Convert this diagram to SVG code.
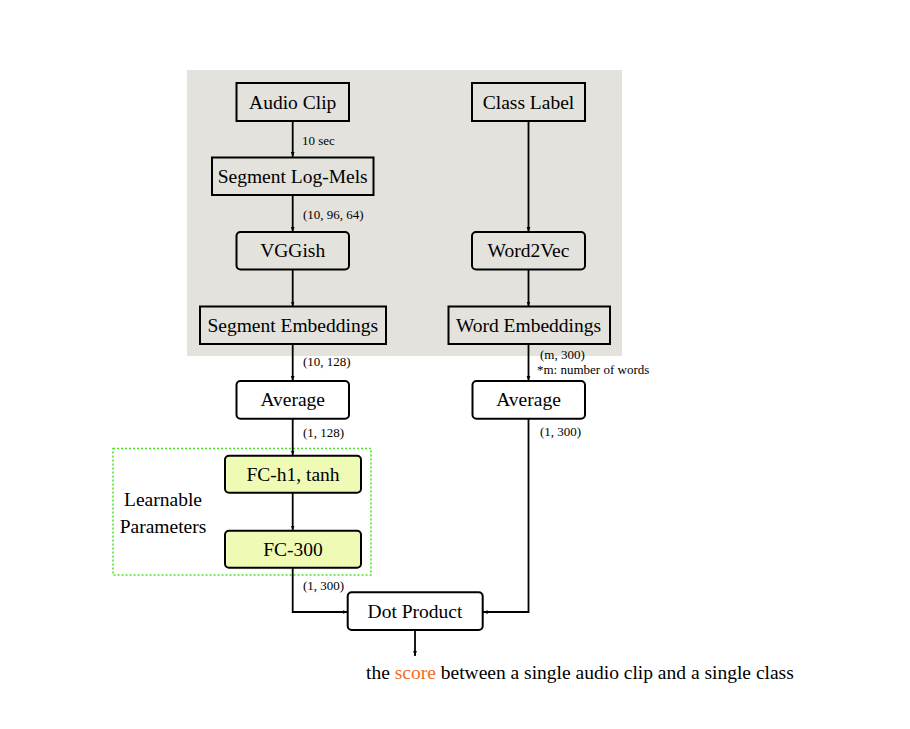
<svg xmlns="http://www.w3.org/2000/svg" width="910" height="729" viewBox="0 0 910 729">
<defs>
<marker id="ah" viewBox="0 0 8 8" refX="8" refY="4" markerWidth="5" markerHeight="5" orient="auto" markerUnits="userSpaceOnUse">
<path d="M0,1 L8,4 L0,7 Z" fill="#000"/>
</marker>
<style>
.bx{fill:#e3e2dc;stroke:#000;stroke-width:2}
.wb{fill:#fff;stroke:#000;stroke-width:2}
.gb{fill:#effbb4;stroke:#000;stroke-width:2}
.t{font-family:"Liberation Serif","Times New Roman",serif;font-size:19.5px;fill:#000;text-anchor:middle}
.s{font-family:"Liberation Serif","Times New Roman",serif;font-size:13px;fill:#000}
.c{fill:none;stroke:#000;stroke-width:1.8;marker-end:url(#ah)}
</style>
</defs>
<rect x="187" y="70" width="435" height="286" fill="#e3e2dc"/>
<rect x="113" y="448.5" width="258" height="126.5" fill="none" stroke="#4fe22a" stroke-width="1.6" stroke-dasharray="2,2"/>
<g id="connectors">
<path class="c" d="M292.7,121 V157"/>
<path class="c" d="M292.7,195 V232"/>
<path class="c" d="M292.7,269.5 V306.5"/>
<path class="c" d="M292.7,344 V381"/>
<path class="c" d="M292.7,418.7 V455.5"/>
<path class="c" d="M292.7,492.7 V530.5"/>
<path class="c" d="M292.7,567.7 V612 H347.7"/>
<path class="c" d="M528.5,121 V232"/>
<path class="c" d="M528.5,269.5 V306.5"/>
<path class="c" d="M528.5,344 V381"/>
<path class="c" d="M528.5,418.7 V612 H482.7"/>
<path class="c" d="M415,630 V656"/>
</g>
<g id="audio-clip"><rect class="bx" x="236.5" y="83" width="112.5" height="38"/><text class="t" x="292.7" y="108.5">Audio Clip</text></g>
<g id="class-label"><rect class="bx" x="472" y="83" width="113" height="38"/><text class="t" x="528.5" y="108.5">Class Label</text></g>
<g id="segment-log-mels"><rect class="bx" x="212" y="157.5" width="161.5" height="37.5"/><text class="t" x="292.7" y="182.5">Segment Log-Mels</text></g>
<g id="vggish"><rect class="bx" x="236.5" y="232" width="112.5" height="37.5" rx="4"/><text class="t" x="292.7" y="257">VGGish</text></g>
<g id="word2vec"><rect class="bx" x="472" y="232" width="113" height="37.5" rx="4"/><text class="t" x="528.5" y="257">Word2Vec</text></g>
<g id="segment-embeddings"><rect class="bx" x="200" y="306.5" width="186" height="37.5"/><text class="t" x="292.7" y="331.5">Segment Embeddings</text></g>
<g id="word-embeddings"><rect class="bx" x="448.5" y="306.5" width="161.5" height="37.5"/><text class="t" x="528.5" y="331.5">Word Embeddings</text></g>
<g id="average-left"><rect class="wb" x="236.5" y="381" width="112.5" height="37.7" rx="4"/><text class="t" x="292.7" y="406">Average</text></g>
<g id="average-right"><rect class="wb" x="472.5" y="381" width="112.5" height="37.7" rx="4"/><text class="t" x="528.5" y="406">Average</text></g>
<g id="fc-h1"><rect class="gb" x="225" y="455.7" width="136" height="37" rx="4"/><text class="t" x="293" y="480.5">FC-h1, tanh</text></g>
<g id="fc-300"><rect class="gb" x="225" y="530.7" width="136" height="37" rx="4"/><text class="t" x="293" y="555.5">FC-300</text></g>
<g id="dot-product"><rect class="wb" x="347.7" y="592.3" width="135" height="37.7" rx="4"/><text class="t" x="415" y="617.5">Dot Product</text></g>
<g id="learnable"><text class="t" x="163" y="505.5">Learnable</text><text class="t" x="163" y="532.5">Parameters</text></g>
<g id="labels">
<text class="s" x="302" y="144.5">10 sec</text>
<text class="s" x="303" y="218.5">(10, 96, 64)</text>
<text class="s" x="303" y="366">(10, 128)</text>
<text class="s" x="303" y="436.5">(1, 128)</text>
<text class="s" x="303" y="590">(1, 300)</text>
<text class="s" x="540" y="359">(m, 300)</text>
<text class="s" x="537" y="374">*m: number of words</text>
<text class="s" x="540" y="436">(1, 300)</text>
</g>
<text id="caption" x="366" y="678.5" style="font-family:'Liberation Serif','Times New Roman',serif;font-size:19.5px;fill:#000">the <tspan fill="#f26b1d">score</tspan> between a single audio clip and a single class</text>
</svg>
